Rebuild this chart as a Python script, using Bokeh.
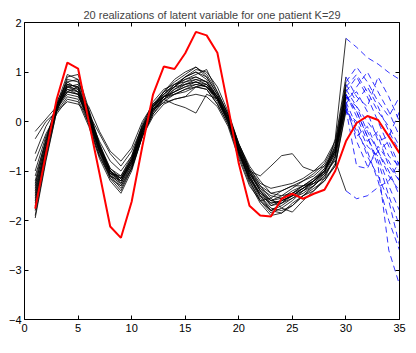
from bokeh.plotting import figure
from bokeh.models import Range1d, FixedTicker, LinearAxis
from bokeh.embed import file_html
from bokeh.resources import INLINE

title_text = "20 realizations of latent variable for one patient K=29"
x_black = list(range(1, 31))
x_blue = list(range(30, 36))
x_red = list(range(1, 36))
x_ticks = [0, 5, 10, 15, 20, 25, 30, 35]
y_ticks = [-4, -3, -2, -1, 0, 1, 2]
y_tick_labels = {-4: "\u22124", -3: "\u22123", -2: "\u22122", -1: "\u22121", 0: "0", 1: "1", 2: "2"}

red_truth = [-1.76, -0.65, 0.45, 1.19, 1.07, 0.0, -1.05, -2.12, -2.35, -1.62,
             -0.5, 0.55, 1.11, 1.06, 1.38, 1.81, 1.74, 1.39, 0.3, -0.85,
             -1.7, -1.9, -1.92, -1.56, -1.46, -1.56, -1.46, -1.38, -1.0, -0.4,
             -0.03, 0.11, 0.03, -0.3, -0.64]

black_realizations = [
    [-1.95, -0.8, 0.2, 0.75, 0.7, 0.1, -0.6, -1.15, -1.4, -0.95, -0.3, 0.2, 0.5, 0.7, 0.9, 1.0, 0.85, 0.5, 0.05, -0.6, -1.2, -1.6, -1.85, -1.75, -1.6, -1.4, -1.25, -1.0, -0.6, 0.5],
    [-1.8, -0.7, 0.3, 0.85, 0.8, 0.2, -0.5, -1.05, -1.3, -0.9, -0.2, 0.3, 0.6, 0.8, 0.95, 1.1, 0.9, 0.55, 0.1, -0.55, -1.1, -1.5, -1.75, -1.8, -1.7, -1.5, -1.3, -1.1, -0.7, 0.6],
    [-1.6, -0.6, 0.25, 0.9, 0.95, 0.25, -0.45, -1.0, -1.25, -0.85, -0.25, 0.25, 0.55, 0.75, 0.85, 0.95, 1.05, 0.6, 0.15, -0.5, -1.0, -1.35, -1.6, -1.65, -1.55, -1.45, -1.3, -1.05, -0.65, 0.75],
    [-1.5, -0.55, 0.35, 0.7, 0.6, 0.0, -0.65, -1.1, -1.2, -0.8, -0.15, 0.35, 0.6, 0.7, 0.75, 0.8, 0.7, 0.45, 0.0, -0.65, -1.15, -1.45, -1.6, -1.5, -1.35, -1.2, -1.1, -0.9, -0.5, 0.3],
    [-1.3, -0.4, 0.4, 0.8, 0.65, 0.05, -0.55, -1.0, -1.15, -0.75, -0.1, 0.4, 0.65, 0.75, 0.8, 0.9, 0.8, 0.5, 0.1, -0.5, -1.0, -1.4, -1.7, -1.6, -1.5, -1.4, -1.2, -1.0, -0.6, 0.45],
    [-1.2, -0.35, 0.3, 0.6, 0.55, 0.05, -0.6, -1.05, -1.1, -0.7, -0.05, 0.35, 0.5, 0.6, 0.7, 0.75, 0.7, 0.4, 0.0, -0.6, -1.1, -1.5, -1.8, -1.85, -1.7, -1.5, -1.35, -1.2, -0.9, 0.2],
    [-1.0, -0.3, 0.2, 0.5, 0.45, -0.05, -0.7, -1.15, -1.3, -0.95, -0.3, 0.15, 0.4, 0.55, 0.6, 0.7, 0.65, 0.35, -0.05, -0.7, -1.25, -1.65, -1.9, -1.85, -1.65, -1.5, -1.4, -1.2, -0.85, 0.35],
    [-0.8, -0.25, 0.15, 0.45, 0.4, -0.1, -0.75, -1.2, -1.45, -1.0, -0.3, 0.1, 0.35, 0.45, 0.5, 0.55, 0.5, 0.3, -0.1, -0.75, -1.3, -1.6, -1.55, -1.4, -1.3, -1.3, -1.25, -1.15, -0.9, 0.25],
    [-0.65, -0.1, 0.25, 0.55, 0.5, 0.1, -0.4, -0.8, -1.0, -0.7, -0.1, 0.3, 0.5, 0.65, 0.8, 0.85, 0.75, 0.45, 0.05, -0.55, -1.05, -1.35, -1.5, -1.55, -1.45, -1.35, -1.2, -0.95, -0.55, 0.65],
    [-0.35, 0.0, 0.2, 0.4, 0.35, 0.15, -0.25, -0.65, -0.9, -0.6, -0.1, 0.25, 0.45, 0.55, 0.65, 0.75, 0.7, 0.5, 0.1, -0.5, -1.0, -1.3, -1.45, -1.4, -1.3, -1.2, -1.05, -0.85, -0.45, 0.8],
    [-0.2, 0.05, 0.3, 0.6, 0.55, 0.3, -0.2, -0.6, -0.8, -0.53, 0.0, 0.35, 0.55, 0.7, 0.9, 1.0, 0.9, 0.55, 0.15, -0.45, -0.95, -1.25, -1.35, -1.3, -1.25, -1.15, -1.0, -0.8, -0.4, 0.9],
    [-1.4, -0.5, 0.35, 0.95, 0.85, 0.2, -0.45, -0.95, -1.15, -0.8, -0.2, 0.3, 0.6, 0.85, 1.0, 1.1, 0.95, 0.6, 0.15, -0.45, -0.9, -1.2, -1.45, -1.5, -1.45, -1.3, -1.15, -0.95, -0.55, 0.55],
    [-1.7, -0.65, 0.25, 0.75, 0.7, 0.15, -0.5, -1.0, -1.2, -0.85, -0.25, 0.2, 0.45, 0.65, 0.75, 0.85, 0.8, 0.5, 0.05, -0.6, -1.15, -1.55, -1.8, -1.7, -1.55, -1.4, -1.3, -1.1, -0.75, 0.4],
    [-1.55, -0.6, 0.3, 0.65, 0.55, -0.05, -0.7, -1.1, -1.25, -0.9, -0.25, 0.2, 0.5, 0.55, 0.65, 0.7, 0.65, 0.35, -0.05, -0.65, -1.15, -1.5, -1.65, -1.6, -1.5, -1.35, -1.25, -1.05, -0.35, 1.68],
    [-1.9, -0.75, 0.2, 0.7, 0.75, 0.15, -0.55, -1.1, -1.35, -0.95, -0.3, 0.15, 0.45, 0.6, 0.7, 0.8, 0.75, 0.45, 0.0, -0.65, -1.2, -1.6, -1.8, -1.65, -1.45, -1.3, -1.2, -1.05, -0.79, -1.4],
    [-1.25, -0.45, 0.3, 0.7, 0.65, 0.1, -0.55, -1.0, -1.15, -0.8, -0.2, 0.25, 0.45, 0.35, 0.28, 0.17, 0.55, 0.45, 0.05, -0.55, -1.05, -1.4, -1.6, -1.55, -1.4, -1.3, -1.15, -1.0, -0.65, 0.5],
    [-1.1, -0.4, 0.25, 0.6, 0.7, 0.1, -0.5, -0.95, -1.1, -0.75, -0.15, 0.25, 0.38, 0.45, 0.5, 0.7, 0.75, 0.5, 0.1, -0.5, -1.0, -1.1, -0.9, -0.69, -0.65, -0.92, -1.0, -0.9, -0.6, 0.55],
    [-1.45, -0.55, 0.3, 0.8, 0.85, 0.2, -0.5, -1.0, -1.2, -0.85, -0.2, 0.3, 0.55, 0.75, 0.9, 1.05, 1.0, 0.7, 0.2, -0.45, -0.95, -1.3, -1.55, -1.75, -1.83, -1.6, -1.4, -1.15, -0.7, 0.35],
    [-1.65, -0.6, 0.35, 0.75, 0.6, 0.0, -0.6, -1.05, -1.15, -0.75, -0.15, 0.3, 0.5, 0.7, 0.85, 0.9, 0.8, 0.45, 0.0, -0.6, -1.1, -1.45, -1.7, -1.65, -1.5, -1.35, -1.2, -1.0, -0.5, 0.7],
    [-1.35, -0.5, 0.3, 0.65, 0.6, 0.05, -0.6, -1.05, -1.2, -0.8, -0.2, 0.25, 0.5, 0.6, 0.75, 0.8, 0.7, 0.45, 0.0, -0.6, -1.05, -1.4, -1.65, -1.6, -1.5, -1.35, -1.2, -1.0, -0.6, 0.25],
]

blue_forecasts = [
    [0.5, 0.2, -0.3, -0.8, -1.5, -2.1],
    [0.6, 0.9, 0.5, 0.0, -0.5, -1.0],
    [0.75, 0.4, 0.7, 0.3, -0.2, -0.6],
    [0.3, -0.2, -0.6, -1.2, -2.0, -2.6],
    [0.45, 0.6, 0.2, -0.4, -0.3, 0.2],
    [0.2, 0.0, -0.5, -0.7, -1.3, -1.8],
    [0.35, 0.7, 1.0, 0.6, 0.2, -0.3],
    [0.25, -0.3, -0.1, -0.6, -1.0, -1.5],
    [0.65, 0.3, 0.0, -0.3, -0.9, -1.2],
    [0.8, 1.1, 0.8, 0.4, 0.1, 0.5],
    [0.9, 0.5, 0.3, 0.9, 0.5, 0.0],
    [0.55, 0.1, -0.4, -0.2, -0.7, -0.9],
    [0.4, -0.1, -0.7, -1.1, -1.6, -2.5],
    [1.68, 1.5, 1.29, 1.16, 0.99, 0.85],
    [-1.4, -1.56, -1.5, -1.33, -1.2, -0.8],
    [0.5, 0.3, -0.2, -0.6, -0.4, -0.9],
    [0.55, 0.2, -0.3, -0.9, -2.6, -3.3],
    [0.35, -0.4, -0.9, -0.6, -1.1, -1.4],
    [0.7, 0.95, 0.6, 0.2, -0.1, -0.5],
    [0.25, -0.9, -0.95, -0.5, -0.8, -1.2],
]

FONT = "Liberation Sans"

p = figure(width=410, height=345, output_backend="svg", toolbar_location=None,
           x_range=Range1d(0, 35), y_range=Range1d(-4, 2),
           min_border_left=24, min_border_right=11, min_border_top=22, min_border_bottom=26)
p.title.text = title_text
p.title.align = "center"
p.title.text_font = FONT
p.title.text_font_size = "11px"
p.title.text_font_style = "normal"
p.title.standoff = 3
p.title.offset = 0
p.grid.visible = False
p.outline_line_color = None
p.background_fill_color = "white"
p.border_fill_color = "white"

for ax in p.xaxis + p.yaxis:
    ax.major_tick_in = 4
    ax.major_tick_out = 0
    ax.minor_tick_line_color = None
    ax.axis_line_color = "black"
    ax.major_tick_line_color = "black"
    ax.major_label_text_font = FONT
    ax.major_label_text_font_size = "11px"
    ax.major_label_text_color = "black"
p.xaxis.ticker = FixedTicker(ticks=x_ticks)
p.yaxis.ticker = FixedTicker(ticks=y_ticks)
p.yaxis.major_label_overrides = y_tick_labels
p.xaxis.major_label_standoff = 4
p.yaxis.major_label_standoff = 3

top_axis = LinearAxis(ticker=FixedTicker(ticks=x_ticks), major_tick_in=4, major_tick_out=0,
                      minor_tick_line_color=None, major_label_text_color=None,
                      major_label_text_font_size="1px",
                      major_label_standoff=0, axis_line_color="black")
right_axis = LinearAxis(ticker=FixedTicker(ticks=y_ticks), major_tick_in=4, major_tick_out=0,
                        minor_tick_line_color=None, major_label_text_color=None,
                        major_label_text_font_size="1px",
                        major_label_standoff=0, axis_line_color="black")
p.add_layout(top_axis, "above")
p.add_layout(right_axis, "right")

for row in black_realizations:
    p.line(x_black, row, line_color="black", line_width=0.8)
for row in blue_forecasts:
    p.line(x_blue, row, line_color="#0000ff", line_width=0.8, line_dash="6 4")
p.line(x_red, red_truth, line_color="#ff0000", line_width=2)

open("out.html", "w").write(file_html(p, INLINE))
